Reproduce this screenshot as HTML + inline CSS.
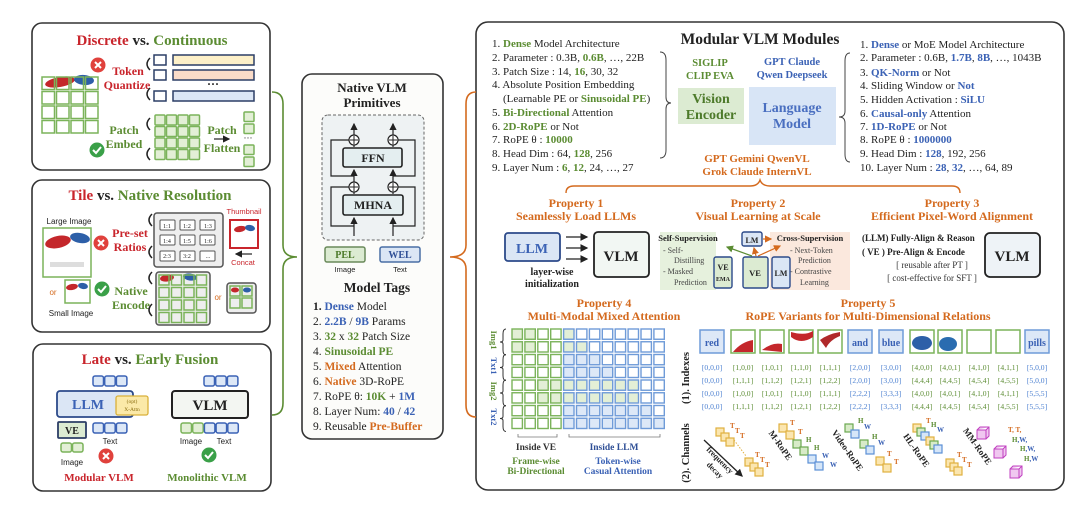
<!DOCTYPE html>
<html><head><meta charset="utf-8">
<style>
html,body{margin:0;padding:0;background:#fff;}
svg{display:block;}
text{font-family:"Liberation Serif",serif;}
.b{font-weight:bold;}
.s{font-family:"Liberation Sans",sans-serif;}
.R{fill:#c9252c}.G{fill:#5b8c32}.B{fill:#3b62b5}.O{fill:#d46a1e}.K{fill:#222}
</style></head><body>
<svg id="sv" width="1080" height="513" viewBox="0 0 1080 513" xmlns="http://www.w3.org/2000/svg">
<defs>
<marker id="ah" markerWidth="6" markerHeight="6" refX="5" refY="3" orient="auto"><path d="M0,0 L6,3 L0,6 z" fill="#222"/></marker>
<marker id="ao" markerWidth="6" markerHeight="6" refX="5" refY="3" orient="auto"><path d="M0,0 L6,3 L0,6 z" fill="#d46a1e"/></marker>
<marker id="ag" markerWidth="6" markerHeight="6" refX="5" refY="3" orient="auto"><path d="M0,0 L6,3 L0,6 z" fill="#5b8c32"/></marker>
</defs>

<!-- panel frames -->
<rect x="32" y="23" width="238" height="147" rx="10" fill="none" stroke="#333" stroke-width="1.6"/>
<rect x="32" y="180" width="238" height="152" rx="10" fill="none" stroke="#333" stroke-width="1.6"/>
<rect x="33" y="344" width="238" height="147" rx="10" fill="none" stroke="#333" stroke-width="1.6"/>
<rect x="302" y="74" width="141" height="365" rx="10" fill="#fcfcfa" stroke="#333" stroke-width="1.6"/>
<rect x="476" y="22" width="588" height="468" rx="12" fill="none" stroke="#333" stroke-width="1.6"/>

<g id="shapes"></g>

<!-- braces -->
<path d="M272,92 Q283,92 283,104 L283,245 Q283,257 297,257 Q283,257 283,269 L283,403 Q283,415 272,415" fill="none" stroke="#5b8c32" stroke-width="1.6"/>
<path d="M476,92 Q466,92 466,104 L466,245 Q466,257 450,257 Q466,257 466,269 L466,405 Q466,417 476,417" fill="none" stroke="#d46a1e" stroke-width="1.6"/>

<!-- Panel 1 -->
<text x="152" y="45" text-anchor="middle" font-size="15" class="b"><tspan class="R">Discrete</tspan><tspan class="K"> vs. </tspan><tspan class="G">Continuous</tspan></text>
<text x="128" y="75" text-anchor="middle" font-size="12" class="b R">Token</text>
<text x="127" y="89" text-anchor="middle" font-size="12" class="b R">Quantize</text>
<text x="160" y="64" text-anchor="middle" font-size="9" class="K">0</text>
<text x="160" y="79" text-anchor="middle" font-size="9" class="K">1</text>
<text x="160" y="100" text-anchor="middle" font-size="9" class="K">N</text>
<text x="213" y="88" text-anchor="middle" font-size="12" class="b K">···</text>
<text x="124" y="134" text-anchor="middle" font-size="12" class="b G">Patch</text>
<text x="124" y="148" text-anchor="middle" font-size="12" class="b G">Embed</text>
<text x="222" y="134" text-anchor="middle" font-size="12" class="b G">Patch</text>
<text x="222" y="152" text-anchor="middle" font-size="12" class="b G">Flatten</text>
<text x="248" y="141" text-anchor="middle" font-size="9" class="K">···</text>

<!-- Panel 2 -->
<text x="150" y="200" text-anchor="middle" font-size="15" class="b"><tspan class="R">Tile</tspan><tspan class="K"> vs. </tspan><tspan class="G">Native Resolution</tspan></text>
<text x="69" y="224" text-anchor="middle" font-size="8" class="s K">Large Image</text>
<text x="130" y="237" text-anchor="middle" font-size="12" class="b R">Pre-set</text>
<text x="130" y="251" text-anchor="middle" font-size="12" class="b R">Ratios</text>
<text x="244" y="214" text-anchor="middle" font-size="7.5" class="s R">Thumbnail</text>
<text x="243" y="265" text-anchor="middle" font-size="7.5" class="s R">Concat</text>
<text x="53" y="295" text-anchor="middle" font-size="8" class="s O">or</text>
<text x="71" y="316" text-anchor="middle" font-size="8" class="s K">Small Image</text>
<text x="131" y="295" text-anchor="middle" font-size="12" class="b G">Native</text>
<text x="131" y="309" text-anchor="middle" font-size="12" class="b G">Encode</text>
<text x="218" y="300" text-anchor="middle" font-size="8" class="s O">or</text>

<!-- Panel 3 -->
<text x="150" y="364" text-anchor="middle" font-size="15" class="b"><tspan class="R">Late</tspan><tspan class="K">  vs.  </tspan><tspan class="G">Early Fusion</tspan></text>
<text x="72" y="465" text-anchor="middle" font-size="8" class="s K">Image</text>
<text x="110" y="444" text-anchor="middle" font-size="8" class="s K">Text</text>
<text x="99" y="481" text-anchor="middle" font-size="11" class="b R">Modular VLM</text>
<text x="191" y="444" text-anchor="middle" font-size="8" class="s K">Image</text>
<text x="224" y="444" text-anchor="middle" font-size="8" class="s K">Text</text>
<text x="207" y="481" text-anchor="middle" font-size="11" class="b G">Monolithic VLM</text>

<!-- Center panel -->
<text x="372" y="92" text-anchor="middle" font-size="13" class="b K">Native VLM</text>
<text x="372" y="107" text-anchor="middle" font-size="13" class="b K">Primitives</text>
<text x="414" y="130" text-anchor="middle" font-size="11" class="b O">×L</text>
<text x="345" y="272" text-anchor="middle" font-size="7.5" class="s K">Image</text>
<text x="400" y="272" text-anchor="middle" font-size="7.5" class="s K">Text</text>
<text x="377" y="292" text-anchor="middle" font-size="13.5" class="b K">Model Tags</text>
<g font-size="11.5" class="K">
<text x="313" y="310"><tspan class="b">1.</tspan>  <tspan class="B b">Dense</tspan> Model</text>
<text x="313" y="325">2.  <tspan class="B b">2.2B</tspan> / <tspan class="B b">9B</tspan> Params</text>
<text x="313" y="340">3.  <tspan class="G b">32</tspan> x <tspan class="G b">32</tspan> Patch Size</text>
<text x="313" y="355">4.  <tspan class="G b">Sinusoidal PE</tspan></text>
<text x="313" y="370">5.  <tspan class="O b">Mixed</tspan> Attention</text>
<text x="313" y="385">6.  <tspan class="O b">Native</tspan> 3D-RoPE</text>
<text x="313" y="400">7.  RoPE θ: <tspan class="G b">10K</tspan> + <tspan class="B b">1M</tspan></text>
<text x="313" y="415">8.  Layer Num: <tspan class="B b">40</tspan> / <tspan class="B b">42</tspan></text>
<text x="313" y="430">9.  Reusable <tspan class="O b">Pre-Buffer</tspan></text>
</g>

<!-- Right panel top -->
<text x="760" y="44" text-anchor="middle" font-size="15.5" class="b K">Modular VLM Modules</text>
<g font-size="11" class="K">
<text x="492" y="47">1.  <tspan class="G b">Dense</tspan> Model Architecture</text>
<text x="492" y="61">2.  Parameter : 0.3B, <tspan class="G b">0.6B</tspan>, …, 22B</text>
<text x="492" y="75">3.  Patch Size :  14,  <tspan class="G b">16</tspan>,  30,  32</text>
<text x="492" y="88">4.  Absolute Position Embedding</text>
<text x="503" y="102">(Learnable PE or <tspan class="G b">Sinusoidal PE</tspan>)</text>
<text x="492" y="116">5.  <tspan class="G b">Bi-Directional</tspan> Attention</text>
<text x="492" y="130">6.  <tspan class="G b">2D-RoPE</tspan> or Not</text>
<text x="492" y="143">7.  RoPE θ : <tspan class="G b">10000</tspan></text>
<text x="492" y="157">8.  Head Dim :  64,  <tspan class="G b">128</tspan>,  256</text>
<text x="492" y="171">9.  Layer Num : <tspan class="G b">6</tspan>, <tspan class="G b">12</tspan>,  24, …,  27</text>
<text x="860" y="48">1.  <tspan class="B b">Dense</tspan> or MoE Model Architecture</text>
<text x="860" y="61">2.  Parameter : 0.6B, <tspan class="B b">1.7B</tspan>, <tspan class="B b">8B</tspan>, …, 1043B</text>
<text x="860" y="76">3.  <tspan class="B b">QK-Norm</tspan> or Not</text>
<text x="860" y="89">4.  Sliding Window or <tspan class="B b">Not</tspan></text>
<text x="860" y="103">5.  Hidden Activation :  <tspan class="B b">SiLU</tspan></text>
<text x="860" y="117">6.  <tspan class="B b">Causal-only</tspan> Attention</text>
<text x="860" y="130">7.  <tspan class="B b">1D-RoPE</tspan> or Not</text>
<text x="860" y="143">8.  RoPE θ : <tspan class="B b">1000000</tspan></text>
<text x="860" y="157">9.  Head Dim :  <tspan class="B b">128</tspan>,  192, 256</text>
<text x="860" y="171">10.  Layer Num : <tspan class="B b">28</tspan>,  <tspan class="B b">32</tspan>, …,  64, 89</text>
</g>
<path d="M660,52 Q666,52 666,60 L666,97 Q666,103 671,103 Q666,103 666,109 L666,150 Q666,158 660,158" fill="none" stroke="#444" stroke-width="1"/>
<path d="M850,53 Q845,53 845,61 L845,111 Q845,117 839,117 Q845,117 845,123 L845,154 Q845,162 850,162" fill="none" stroke="#444" stroke-width="1"/>
<text x="710" y="66" text-anchor="middle" font-size="10.5" class="b G">SIGLIP</text>
<text x="710" y="79" text-anchor="middle" font-size="10.5" class="b G">CLIP EVA</text>
<text x="792" y="65" text-anchor="middle" font-size="10.5" class="b B">GPT Claude</text>
<text x="792" y="78" text-anchor="middle" font-size="10.5" class="b B">Qwen Deepseek</text>
<rect x="678" y="88" width="66" height="36" fill="#dcebd2"/>
<rect x="749" y="87" width="87" height="58" fill="#d8e5f6"/>
<text x="711" y="103" text-anchor="middle" font-size="14" class="b" fill="#4d7a2a">Vision</text>
<text x="711" y="119" text-anchor="middle" font-size="14" class="b" fill="#4d7a2a">Encoder</text>
<text x="792" y="112" text-anchor="middle" font-size="14" class="b" fill="#4a6fc0">Language</text>
<text x="792" y="128" text-anchor="middle" font-size="14" class="b" fill="#4a6fc0">Model</text>
<text x="757" y="162" text-anchor="middle" font-size="11" class="b O">GPT   Gemini   QwenVL</text>
<text x="757" y="175" text-anchor="middle" font-size="11" class="b O">Grok   Claude   InternVL</text>
<path d="M566,193 Q566,186 574,186 L750,186 Q758,186 760,180 Q762,186 770,186 L952,186 Q960,186 960,193" fill="none" stroke="#d46a1e" stroke-width="1.4"/>

<g font-size="12" class="b O" text-anchor="middle">
<text x="576" y="207">Property 1</text><text x="576" y="220">Seamlessly Load LLMs</text>
<text x="758" y="207">Property 2</text><text x="758" y="220">Visual Learning at Scale</text>
<text x="952" y="207">Property 3</text><text x="952" y="220">Efficient Pixel-Word Alignment</text>
<text x="604" y="307">Property 4</text><text x="604" y="320">Multi-Modal Mixed Attention</text>
<text x="868" y="307">Property 5</text><text x="868" y="320">RoPE Variants for Multi-Dimensional Relations</text>
</g>

<!-- Property 1 -->
<rect x="505" y="233" width="55" height="28" rx="3" fill="#dbe6f5" stroke="#2c4a8a" stroke-width="1.8"/>
<text x="532" y="253" text-anchor="middle" font-size="14" class="b B">LLM</text>
<rect x="594" y="232" width="55" height="45" rx="4" fill="#f2f7f3" stroke="#222" stroke-width="1.8"/>
<text x="621" y="261" text-anchor="middle" font-size="15" class="b K">VLM</text>
<line x1="566" y1="237" x2="587" y2="237" stroke="#222" stroke-width="1.3" marker-end="url(#ah)"/>
<line x1="566" y1="248" x2="587" y2="248" stroke="#222" stroke-width="1.3" marker-end="url(#ah)"/>
<line x1="566" y1="259" x2="587" y2="259" stroke="#222" stroke-width="1.3" marker-end="url(#ah)"/>
<text x="552" y="275" text-anchor="middle" font-size="10" class="b K">layer-wise</text>
<text x="552" y="287" text-anchor="middle" font-size="10" class="b K">initialization</text>

<!-- Property 2 -->
<rect x="660" y="232" width="56" height="58" fill="#e6f1dd"/>
<rect x="770" y="232" width="80" height="58" fill="#fbe8dd"/>
<text x="688" y="241" text-anchor="middle" font-size="8.5" class="b K">Self-Supervision</text>
<text x="663" y="253" font-size="8" fill="#444">- Self-</text>
<text x="674" y="263" font-size="8" fill="#444">Distilling</text>
<text x="663" y="274" font-size="8" fill="#444">- Masked</text>
<text x="674" y="285" font-size="8" fill="#444">Prediction</text>
<text x="810" y="241" text-anchor="middle" font-size="8.5" class="b K">Cross-Supervision</text>
<text x="790" y="253" font-size="8" fill="#444">- Next-Token</text>
<text x="798" y="263" font-size="8" fill="#444">Prediction</text>
<text x="790" y="274" font-size="8" fill="#444">- Contrastive</text>
<text x="800" y="285" font-size="8" fill="#444">Learning</text>
<rect x="742" y="232" width="20" height="14" rx="2" fill="#dbe6f5" stroke="#2c4a8a" stroke-width="1.4"/>
<text x="752" y="243" text-anchor="middle" font-size="8" class="b K">LM</text>
<rect x="714" y="257" width="18" height="31" rx="2" fill="#dcebd2" stroke="#2c4a8a" stroke-width="1.4"/>
<text x="723" y="270" text-anchor="middle" font-size="8" class="b K">VE</text>
<text x="723" y="281" text-anchor="middle" font-size="6" class="b K">EMA</text>
<rect x="743" y="257" width="25" height="31" rx="2" fill="#dcebd2" stroke="#2c4a8a" stroke-width="1.4"/>
<text x="755" y="276" text-anchor="middle" font-size="8.5" class="b K">VE</text>
<rect x="772" y="257" width="18" height="31" rx="2" fill="#dbe6f5" stroke="#2c4a8a" stroke-width="1.4"/>
<text x="781" y="276" text-anchor="middle" font-size="8" class="b K">LM</text>
<line x1="752" y1="256" x2="727" y2="247" stroke="#5b8c32" stroke-width="1.2" marker-end="url(#ag)"/>
<line x1="756" y1="256" x2="754" y2="248" stroke="#d46a1e" stroke-width="1.2" marker-end="url(#ao)"/>
<line x1="758" y1="256" x2="780" y2="246" stroke="#d46a1e" stroke-width="1.2" marker-end="url(#ao)"/>
<line x1="763" y1="239" x2="771" y2="239" stroke="#d46a1e" stroke-width="1.2" marker-end="url(#ao)"/>

<!-- Property 3 -->
<text x="862" y="241" font-size="9" class="b K">(LLM)  Fully-Align &amp; Reason</text>
<text x="862" y="255" font-size="9" class="b K">( VE )  Pre-Align &amp; Encode</text>
<text x="932" y="268" text-anchor="middle" font-size="9" fill="#333">[ reusable after PT ]</text>
<text x="932" y="281" text-anchor="middle" font-size="9" fill="#333">[ cost-effective for SFT ]</text>
<rect x="985" y="233" width="55" height="44" rx="5" fill="#eef3f7" stroke="#222" stroke-width="1.8"/>
<text x="1012" y="261" text-anchor="middle" font-size="15" class="b K">VLM</text>

<!-- Property 4 labels -->
<g font-size="8.5" class="b">
<text transform="translate(491,340) rotate(90)" text-anchor="middle" class="G">Img1</text>
<text transform="translate(491,366) rotate(90)" text-anchor="middle" class="B">Txt1</text>
<text transform="translate(491,391) rotate(90)" text-anchor="middle" class="G">Img2</text>
<text transform="translate(491,417) rotate(90)" text-anchor="middle" class="B">Txt2</text>
</g>
<text x="536" y="450" text-anchor="middle" font-size="9.5" class="b" fill="#333">Inside VE</text>
<text x="614" y="450" text-anchor="middle" font-size="9.5" class="b" fill="#2f4f96">Inside LLM</text>
<text x="536" y="464" text-anchor="middle" font-size="9.5" class="b G">Frame-wise</text>
<text x="536" y="474" text-anchor="middle" font-size="9.5" class="b G">Bi-Directional</text>
<text x="618" y="464" text-anchor="middle" font-size="9.5" class="b B">Token-wise</text>
<text x="618" y="474" text-anchor="middle" font-size="9.5" class="b B">Casual Attention</text>
<path d="M518,434 L518,437 L557,437 L557,434 M569,434 L569,437 L660,437 L660,434" fill="none" stroke="#777" stroke-width="0.8"/>

<!-- Property 5 -->
<text transform="translate(689,378) rotate(-90)" text-anchor="middle" font-size="10.5" class="b K">(1). Indexes</text>
<text transform="translate(689,453) rotate(-90)" text-anchor="middle" font-size="10.5" class="b K">(2). Channels</text>
<g font-size="7.6" text-anchor="middle">
<text y="370"><tspan x="712" fill="#4a7fd0">[0,0,0]</tspan><tspan x="743" fill="#5b8c32">[1,0,0]</tspan><tspan x="772" fill="#5b8c32">[1,0,1]</tspan><tspan x="801" fill="#5b8c32">[1,1,0]</tspan><tspan x="830" fill="#5b8c32">[1,1,1]</tspan><tspan x="860" fill="#4a7fd0">[2,0,0]</tspan><tspan x="891" fill="#4a7fd0">[3,0,0]</tspan><tspan x="922" fill="#5b8c32">[4,0,0]</tspan><tspan x="950" fill="#5b8c32">[4,0,1]</tspan><tspan x="979" fill="#5b8c32">[4,1,0]</tspan><tspan x="1008" fill="#5b8c32">[4,1,1]</tspan><tspan x="1037" fill="#4a7fd0">[5,0,0]</tspan></text>
<text y="383"><tspan x="712" fill="#4a7fd0">[0,0,0]</tspan><tspan x="743" fill="#5b8c32">[1,1,1]</tspan><tspan x="772" fill="#5b8c32">[1,1,2]</tspan><tspan x="801" fill="#5b8c32">[1,2,1]</tspan><tspan x="830" fill="#5b8c32">[1,2,2]</tspan><tspan x="860" fill="#4a7fd0">[2,0,0]</tspan><tspan x="891" fill="#4a7fd0">[3,0,0]</tspan><tspan x="922" fill="#5b8c32">[4,4,4]</tspan><tspan x="950" fill="#5b8c32">[4,4,5]</tspan><tspan x="979" fill="#5b8c32">[4,5,4]</tspan><tspan x="1008" fill="#5b8c32">[4,5,5]</tspan><tspan x="1037" fill="#4a7fd0">[5,0,0]</tspan></text>
<text y="396"><tspan x="712" fill="#4a7fd0">[0,0,0]</tspan><tspan x="743" fill="#5b8c32">[1,0,0]</tspan><tspan x="772" fill="#5b8c32">[1,0,1]</tspan><tspan x="801" fill="#5b8c32">[1,1,0]</tspan><tspan x="830" fill="#5b8c32">[1,1,1]</tspan><tspan x="860" fill="#4a7fd0">[2,2,2]</tspan><tspan x="891" fill="#4a7fd0">[3,3,3]</tspan><tspan x="922" fill="#5b8c32">[4,0,0]</tspan><tspan x="950" fill="#5b8c32">[4,0,1]</tspan><tspan x="979" fill="#5b8c32">[4,1,0]</tspan><tspan x="1008" fill="#5b8c32">[4,1,1]</tspan><tspan x="1037" fill="#4a7fd0">[5,5,5]</tspan></text>
<text y="409"><tspan x="712" fill="#4a7fd0">[0,0,0]</tspan><tspan x="743" fill="#5b8c32">[1,1,1]</tspan><tspan x="772" fill="#5b8c32">[1,1,2]</tspan><tspan x="801" fill="#5b8c32">[1,2,1]</tspan><tspan x="830" fill="#5b8c32">[1,2,2]</tspan><tspan x="860" fill="#4a7fd0">[2,2,2]</tspan><tspan x="891" fill="#4a7fd0">[3,3,3]</tspan><tspan x="922" fill="#5b8c32">[4,4,4]</tspan><tspan x="950" fill="#5b8c32">[4,4,5]</tspan><tspan x="979" fill="#5b8c32">[4,5,4]</tspan><tspan x="1008" fill="#5b8c32">[4,5,5]</tspan><tspan x="1037" fill="#4a7fd0">[5,5,5]</tspan></text>
</g>
<!-- channel labels -->
<g font-size="9" class="b K" text-anchor="middle">
<text transform="translate(778,447) rotate(55)">M-RoPE</text>
<text transform="translate(845,452) rotate(55)">Video-RoPE</text>
<text transform="translate(914,452) rotate(55)">HL-RoPE</text>
<text transform="translate(975,448) rotate(55)">MM-RoPE</text>
<text transform="translate(718,462) rotate(45)" font-size="8">frequency</text>
<text transform="translate(713,472) rotate(45)" font-size="8">decay</text>
</g>
<line x1="704" y1="440" x2="742" y2="476" stroke="#222" stroke-width="1.3" marker-end="url(#ah)"/>

<g id="top"></g>

<!-- text that must sit on top of shapes -->
<g font-size="6" class="K" text-anchor="middle">
<text x="167" y="228">1:1</text><text x="187" y="228">1:2</text><text x="208" y="228">1:3</text>
<text x="167" y="243">1:4</text><text x="187" y="243">1:5</text><text x="208" y="243">1:6</text>
<text x="167" y="258">2:3</text><text x="187" y="258">3:2</text><text x="208" y="258">...</text>
</g>
<text x="88" y="409" text-anchor="middle" font-size="14" class="b B">LLM</text>
<text x="132" y="403" text-anchor="middle" font-size="5.5" fill="#8a6d10">(opt)</text>
<text x="132" y="411" text-anchor="middle" font-size="5.5" fill="#8a6d10">X-Attn</text>
<text x="72" y="434" text-anchor="middle" font-size="10" class="b K">VE</text>
<text x="210" y="410" text-anchor="middle" font-size="15" class="b K">VLM</text>
<text x="373" y="162" text-anchor="middle" font-size="12" class="b K">FFN</text>
<text x="373" y="209" text-anchor="middle" font-size="12" class="b K">MHNA</text>
<text x="345" y="258" text-anchor="middle" font-size="10" class="b" fill="#4d7a2a">PEL</text>
<text x="400" y="258" text-anchor="middle" font-size="10" class="b" fill="#2f4f96">WEL</text>
<g font-size="10" class="b B" text-anchor="middle">
<text x="712" y="346">red</text><text x="860" y="346">and</text><text x="891" y="346">blue</text><text x="1037" y="346">pills</text>
</g>
<g font-size="7" class="b">
<text x="730" y="428" class="O">T</text><text x="735" y="433" class="O">T</text><text x="740" y="438" class="O">T</text>
<text x="755" y="457" class="O">T</text><text x="760" y="462" class="O">T</text><text x="765" y="467" class="O">T</text>
<text x="790" y="425" class="O">T</text><text x="798" y="434" class="O">T</text><text x="806" y="442" class="G">H</text><text x="814" y="450" class="G">H</text><text x="822" y="458" class="B">W</text><text x="830" y="467" class="B">W</text>
<text x="858" y="423" class="G">H</text><text x="864" y="429" class="B">W</text><text x="872" y="439" class="G">H</text><text x="878" y="445" class="B">W</text><text x="887" y="456" class="O">T</text><text x="894" y="464" class="O">T</text>
<text x="926" y="423" class="O">T</text><text x="931" y="427" class="G">H</text><text x="937" y="432" class="B">W</text><text x="957" y="457" class="O">T</text><text x="962" y="462" class="O">T</text><text x="967" y="467" class="O">T</text>
<text x="1008" y="432" class="O">T, T,</text><text x="1012" y="442"><tspan class="G">H</tspan><tspan class="B">,W,</tspan></text><text x="1020" y="451"><tspan class="G">H</tspan><tspan class="B">,W,</tspan></text><text x="1024" y="461"><tspan class="G">H</tspan><tspan class="B">,W</tspan></text>
</g>
</svg>
<script>
(function(){
var NS="http://www.w3.org/2000/svg",g=document.getElementById("top");
function el(t,a,p){var e=document.createElementNS(NS,t);for(var k in a)e.setAttribute(k,a[k]);(p||g).appendChild(e);return e;}
function r(x,y,w,h,f,s,sw,rx){return el("rect",{x:x,y:y,width:w,height:h,fill:f,stroke:s||"none","stroke-width":sw||1,rx:rx||0});}
var GS="#7bb35a",GF="#e3efd6",BS="#6f9bd8",BF="#dde8f7";
function pillR(cx,cy,rx,ry,rot){el("ellipse",{cx:cx,cy:cy,rx:rx,ry:ry,fill:"#c4272b",transform:"rotate("+rot+" "+cx+" "+cy+")"});}
function pillB(cx,cy,rx,ry,rot){el("ellipse",{cx:cx,cy:cy,rx:rx,ry:ry,fill:"#2d5fa8",transform:"rotate("+rot+" "+cx+" "+cy+")"});}
function check(cx,cy){el("circle",{cx:cx,cy:cy,r:7.5,fill:"#3aa048"});el("path",{d:"M"+(cx-4)+","+cy+" l3,3 l5,-6",stroke:"#fff","stroke-width":2,fill:"none"});}
function cross(cx,cy){el("circle",{cx:cx,cy:cy,r:7.5,fill:"#e0413c"});el("path",{d:"M"+(cx-3)+","+(cy-3)+" l6,6 M"+(cx+3)+","+(cy-3)+" l-6,6",stroke:"#fff","stroke-width":2,fill:"none"});}
function curl(x,y,dir){el("path",{d:"M"+x+","+y+" q-6,"+(6*dir)+" 0,"+(12*dir),stroke:"#222","stroke-width":1.5,fill:"none"});}
// Panel1
pillR(60,82,15,5,-10);pillB(84,80,10,5,5);
for(var i=0;i<4;i++)for(var j=0;j<4;j++)r(42+j*14.5,77+i*14.5,12.5,12.5,"none",GS,1.5);
cross(98,65);check(97,150);
curl(150,58,1);curl(150,88,1);curl(150,118,1);curl(150,148,1);
[[55,"#fdf0c8"],[70,"#fadbc8"],[91,"#dbe6f5"]].forEach(function(c){r(154,c[0],12,10,"#fff","#2c3e66",1.5);r(173,c[0],81,10,c[1],"#2c3e66",1.5);});
for(i=0;i<4;i++)for(j=0;j<4;j++)r(155+j*11.5,115+i*11.5,10,10,GF,GS,1.5,1);
el("line",{x1:214,y1:139,x2:229,y2:139,stroke:"#222","stroke-width":1.2,"marker-end":"url(#ah)"});
[112,124,145,157].forEach(function(y){r(244,y,10,9.5,GF,GS,1.5,1);});
// Panel2
r(43,228,48,49,"#fff",GS,1.5);pillR(58,242,13,6,-12);pillB(80,238,10,5,10);
r(50,262,34,5,"#ddd");
cross(101,243);curl(152,214,1);curl(152,246,1);curl(152,272,1);curl(152,304,1);
r(154,213,69,54,"#eee","#555",1.5,3);
[160,180,200].forEach(function(x){[220,235,251].forEach(function(y){r(x,y,15,10,"#fff","#555",1,1);});});
r(230,220,28,28,"#fff","#c9252c",2);pillR(240,229,6,3,-10);pillB(250,228,5,3,10);
el("line",{x1:252,y1:254,x2:236,y2:254,stroke:"#222","stroke-width":1.2,"marker-end":"url(#ah)"});
r(65,280,25,23,"#fff",GS,1.5);pillR(72,287,6,3,-10);pillB(83,286,5,3,10);
check(102,289);
r(156,272,54,53,"#eee","#555",1.5,3);
pillR(167,278,7,3.5,-8);pillB(190,277,7,3.5,8);
for(i=0;i<4;i++)for(j=0;j<4;j++)r(159+j*12.5,275+i*12.5,10,10,"none",GS,1.5);
r(227,283,29,30,"#eee","#555",1.5,3);
for(i=0;i<2;i++)for(j=0;j<2;j++)r(230+j*12,286+i*12,10,10,"none",GS,1.5);
pillR(235,290,4,2.5,0);pillB(247,290,4,2.5,0);
// Panel3
for(i=0;i<3;i++){r(93+i*11.7,376,10.5,10,BF,"#3b62b5",1.5,2);r(204+i*11.7,376,10.5,10,BF,"#3b62b5",1.5,2);r(93+i*11.7,423,10.5,10,BF,"#3b62b5",1.5,2);}
r(57,391,76,26,"#dbe6f5","#2c4a8a",1.8,3);
r(116,396,32,19,"#fbe9a8","#d9b13a",1.3,2);
r(58,422,28,16,"#dcebd2","#2c3e66",1.8,1);
r(61,443,10.5,9,GF,GS,1.5,2);r(72.5,443,10.5,9,GF,GS,1.5,2);
cross(106,456);
r(172,391,76,27,"#f3f6f2","#222",2,3);
for(i=0;i<5;i++)r(181+i*11.7,423,10.5,10,i<2?GF:BF,i<2?GS:"#3b62b5",1.5,2);
check(209,455);
// center primitives
el("rect",{x:322,y:115,width:102,height:125,rx:6,fill:"#eef2f3",stroke:"#666","stroke-width":1,"stroke-dasharray":"3,2"});
el("path",{d:"M354,176 H331 V140 H349 M393,176 H415 V140 H398 M354,226 H331 V187 H349 M393,226 H415 V187 H398",fill:"none",stroke:"#222","stroke-width":1.2});
r(343,148,59,19,"#e4eef0","#222",1.6,2);r(343,195,60,20,"#e4eef0","#222",1.6,2);
[354,393].forEach(function(x){
 el("line",{x1:x,y1:236,x2:x,y2:218,stroke:"#222","stroke-width":1.2,"marker-end":"url(#ah)"});
 el("line",{x1:x,y1:194,x2:x,y2:192,stroke:"#222","stroke-width":1.2});
 el("line",{x1:x,y1:182,x2:x,y2:170,stroke:"#222","stroke-width":1.2,"marker-end":"url(#ah)"});
 el("line",{x1:x,y1:147,x2:x,y2:145,stroke:"#222","stroke-width":1.2});
 el("line",{x1:x,y1:135,x2:x,y2:124,stroke:"#222","stroke-width":1.2,"marker-end":"url(#ah)"});
 [140,187].forEach(function(y){el("circle",{cx:x,cy:y,r:5,fill:"#fff",stroke:"#222","stroke-width":1.2});el("path",{d:"M"+(x-4)+","+y+" h8 M"+x+","+(y-4)+" v8",stroke:"#222","stroke-width":1});});
});
r(325,247,40,15,"#dcebd2","#6a8a5a",1.5,2);r(380,247,40,15,"#dbe6f5","#4a6fa5",1.5,2);
// Property 4 grid
var fill=[[0,1,4],[0,1,4,5],[4,5,6],[4,5,6,7],[2,3,4,5,6,7,8,9],[2,3,4,5,6,7,8,9],[4,5,6,7,8,9,10],[4,5,6,7,8,9,10,11]];
var pw=12.9,ph=12.75;
for(i=0;i<8;i++)for(j=0;j<12;j++){
 var isG=j<4,f=fill[i].indexOf(j)>=0,img=(i<2||i==4||i==5);
 r(511+j*pw+1,328+i*ph+1,pw-2.5,ph-2.5,f?(img?GF:BF):"#fff",isG?GS:BS,1.4);
}
for(i=0;i<4;i++){var y0=329+i*25.5;el("path",{d:"M506,"+y0+" q-3,0 -3,5 v6 q0,2 -3,2 q3,0 3,2 v6 q0,5 3,5",fill:"none",stroke:"#333","stroke-width":1});}
// Property 5 tokens
[700,731,760,789,818,848,879,910,938,967,996,1025].forEach(function(x,k){
 if(k==0||k==5||k==6||k==11)r(x,330,24,23,BF,BS,1.5);else r(x,330,24,23,"#fff",GS,1.5);});
el("path",{d:"M733,352 q8,-10 20,-12 l0,12 z",fill:"#c4272b"});
el("path",{d:"M762,350 q10,-8 20,-6 l0,8 z",fill:"#c4272b"});
el("path",{d:"M791,332 q14,4 22,-1 l0,6 q-12,8 -22,0 z",fill:"#c4272b"});
el("path",{d:"M820,340 q8,-6 20,-8 l0,4 q-10,4 -14,12 z",fill:"#b0282a"});
el("ellipse",{cx:922,cy:343,rx:10,ry:7,fill:"#2d5fa8"});
el("ellipse",{cx:948,cy:344,rx:9,ry:7,fill:"#2a6cb0"});
// channels
function sq(x,y,c){var C={Y:["#fbe6b0","#e0b040"],G:["#d8ebc8","#6aa84f"],B:["#d6e6f8","#5b8fd6"]}[c];r(x,y,8,8,C[0],C[1],1.2);}
function chain(list){list.forEach(function(a){sq(a[0],a[1],a[2]);});}
chain([[716,428,"Y"],[721,433,"Y"],[726,438,"Y"],[745,458,"Y"],[750,463,"Y"],[755,468,"Y"]]);
el("line",{x1:734,y1:440,x2:746,y2:456,stroke:"#e0b040","stroke-dasharray":"1.5,1.5"});
chain([[779,424,"Y"],[786,431,"Y"],[793,440,"G"],[800,447,"G"],[808,455,"B"],[815,462,"B"]]);
chain([[845,424,"G"],[851,430,"B"],[860,440,"G"],[866,446,"B"],[876,457,"Y"],[883,464,"Y"]]);
chain([[913,424,"Y"],[917,428,"G"],[921,432,"B"],[926,437,"Y"],[930,441,"G"],[934,445,"B"],[946,459,"Y"],[950,463,"Y"],[954,467,"Y"]]);
[[977,427],[994,446],[1010,466]].forEach(function(p){
 el("path",{d:"M"+p[0]+","+(p[1]+3)+" l3,-3 h9 v9 l-3,3 h-9 z M"+p[0]+","+(p[1]+3)+" h9 l3,-3 M"+(p[0]+9)+","+(p[1]+3)+" v9",fill:"#f0c8f0",stroke:"#c040c0","stroke-width":1});});
})();
</script>
</body></html>
